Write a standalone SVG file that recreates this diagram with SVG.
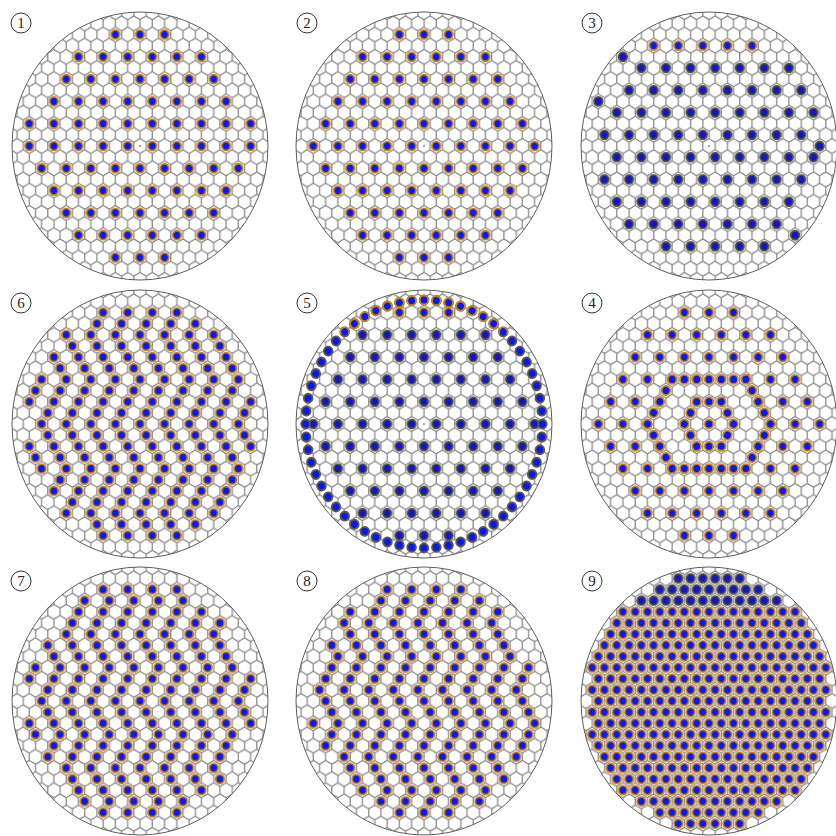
<svg xmlns="http://www.w3.org/2000/svg" xmlns:xlink="http://www.w3.org/1999/xlink" width="836" height="836" viewBox="0 0 836 836">
<style>
.bg{fill:#fff}
.rim{fill:none;stroke:#5a5a5a;stroke-width:1}
.lc{fill:#fff;stroke:#333;stroke-width:1}
.lt{font-family:"Liberation Serif","Times New Roman",serif;font-size:15px;text-anchor:middle;fill:#222}
.r{fill:none;stroke-linecap:round;stroke-dasharray:0.001 0.999}
.ro{stroke:#c8860c;stroke-width:10.9}
.rk{stroke:#5f5a3c;stroke-width:10.9}
.rb{stroke:#0d18f0;stroke-width:7.1}
.cm{fill:#777}
</style>
<defs>
<path id="hx" d="M0,-7.433L6.4375,-3.717V3.717L0,7.433L-6.4375,3.717V-3.717Z" fill="none" stroke="#8c8c8c" stroke-width="1"/>
<circle id="dO" r="4.5" fill="#0d18f0" stroke="#c8860c" stroke-width="1.9"/>
<circle id="dK" r="4.5" fill="#1414c8" stroke="#5a5538" stroke-width="1.9"/>
<pattern id="hexp" patternUnits="userSpaceOnUse" x="-3.21875" y="-2" width="12.875" height="22.3">
<use href="#hx" x="3.21875" y="2"/><use href="#hx" x="16.09375" y="2"/><use href="#hx" x="-9.65625" y="2"/>
<use href="#hx" x="9.65625" y="13.15"/><use href="#hx" x="-3.21875" y="13.15"/>
<use href="#hx" x="3.21875" y="24.3"/><use href="#hx" x="16.09375" y="24.3"/>
</pattern>
<pattern id="sA" patternUnits="userSpaceOnUse" x="0" y="-11.15" width="25.75" height="22.3" patternTransform="skewX(30)"><use href="#dO" transform="translate(12.875,11.15) skewX(-30)"/></pattern>
<pattern id="sAk" patternUnits="userSpaceOnUse" x="0" y="-11.15" width="25.75" height="22.3" patternTransform="skewX(30)"><use href="#dK" transform="translate(12.875,11.15) skewX(-30)"/></pattern>
<pattern id="sB" patternUnits="userSpaceOnUse" x="-12.875" y="-11.15" width="25.75" height="22.3" patternTransform="skewX(30)"><use href="#dO" transform="translate(12.875,11.15) skewX(-30)"/></pattern>
<pattern id="sC" patternUnits="userSpaceOnUse" x="-12.875" y="0" width="25.75" height="22.3" patternTransform="skewX(30)"><use href="#dO" transform="translate(12.875,11.15) skewX(-30)"/></pattern>
<pattern id="sCk" patternUnits="userSpaceOnUse" x="-12.875" y="0" width="25.75" height="22.3" patternTransform="skewX(30)"><use href="#dK" transform="translate(12.875,11.15) skewX(-30)"/></pattern>
<pattern id="fO" patternUnits="userSpaceOnUse" x="-6.4375" y="-5.575" width="12.875" height="11.15" patternTransform="skewX(30)"><use href="#dO" transform="translate(6.4375,5.575) skewX(-30)"/></pattern>
<pattern id="fK" patternUnits="userSpaceOnUse" x="-6.4375" y="-5.575" width="12.875" height="11.15" patternTransform="skewX(30)"><use href="#dK" transform="translate(6.4375,5.575) skewX(-30)"/></pattern>
<pattern id="zA" patternUnits="userSpaceOnUse" x="-7" y="-5.575" width="25.75" height="66.9">
<use href="#dO" x="7" y="5.575"/><use href="#dO" x="13.4375" y="16.725"/><use href="#dO" x="19.875" y="27.875"/>
<use href="#dO" x="26.3125" y="39.025"/><use href="#dO" x="0.5625" y="39.025"/><use href="#dO" x="19.875" y="50.175"/><use href="#dO" x="13.4375" y="61.325"/>
</pattern>
<pattern id="zC" href="#zA" patternTransform="translate(12.875,22.3) scale(-1,1)"/>
<pattern id="zB" patternUnits="userSpaceOnUse" x="-6.5" y="-5.575" width="25.75" height="89.2">
<use href="#dO" x="6.5" y="5.575"/><use href="#dO" x="12.9375" y="16.725"/><use href="#dO" x="19.375" y="27.875"/>
<use href="#dO" x="25.8125" y="39.025"/><use href="#dO" x="0.0625" y="39.025"/><use href="#dO" x="6.5" y="50.175"/>
<use href="#dO" x="25.8125" y="61.325"/><use href="#dO" x="0.0625" y="61.325"/>
<use href="#dO" x="19.375" y="72.475"/><use href="#dO" x="12.9375" y="83.625"/>
</pattern>
<clipPath id="ci"><path d="M-45.06,-117.075h90.12v11.15h-90.12z M-64.375,-105.925h128.75v11.15h-128.75z M-83.69,-94.775h167.38v11.15h-167.38z M-90.125,-83.625h180.25v11.15h-180.25z M-96.56,-72.475h193.12v11.15h-193.12z M-103,-61.325h206v11.15h-206z M-109.44,-50.175h218.88v11.15h-218.88z M-115.88,-39.025h231.76v11.15h-231.76z M-122.31,-27.875h244.62v11.15h-244.62z M-115.88,-16.725h231.76v11.15h-231.76z M-122.31,-5.575h244.62v11.15h-244.62z M-115.88,5.575h231.76v11.15h-231.76z M-122.31,16.725h244.62v11.15h-244.62z M-115.88,27.875h231.76v11.15h-231.76z M-109.44,39.025h218.88v11.15h-218.88z M-103,50.175h206v11.15h-206z M-96.56,61.325h193.12v11.15h-193.12z M-90.125,72.475h180.25v11.15h-180.25z M-83.69,83.625h167.38v11.15h-167.38z M-64.375,94.775h128.75v11.15h-128.75z M-45.06,105.925h90.12v11.15h-90.12z"/></clipPath>
<clipPath id="c9"><path d="M-38.625,-128.225h77.25v11.15h-77.25z M-57.94,-117.075h115.88v11.15h-115.88z M-77.25,-105.925h154.5v11.15h-154.5z M-96.56,-94.775h193.12v11.15h-193.12z M-103,-83.625h206v11.15h-206z M-109.44,-72.475h218.88v11.15h-218.88z M-115.88,-61.325h231.76v11.15h-231.76z M-122.31,-50.175h244.62v11.15h-244.62z M-128.75,-39.025h257.5v11.15h-257.5z M-122.31,-27.875h244.62v11.15h-244.62z M-128.75,-16.725h257.5v11.15h-257.5z M-122.31,-5.575h244.62v11.15h-244.62z M-128.75,5.575h257.5v11.15h-257.5z M-122.31,16.725h244.62v11.15h-244.62z M-128.75,27.875h257.5v11.15h-257.5z M-122.31,39.025h244.62v11.15h-244.62z M-115.88,50.175h231.76v11.15h-231.76z M-109.44,61.325h218.88v11.15h-218.88z M-103,72.475h206v11.15h-206z M-96.56,83.625h193.12v11.15h-193.12z M-77.25,94.775h154.5v11.15h-154.5z M-57.94,105.925h115.88v11.15h-115.88z M-38.625,117.075h77.25v11.15h-77.25z"/></clipPath>
<clipPath id="h4"><path clip-rule="evenodd" d="M-140,-140H140V140H-140Z M-38.625,-44.6L38.625,-44.6L64.375,0L38.625,44.6L-38.625,44.6L-64.375,0Z"/></clipPath>
<clipPath id="t5"><rect x="-140" y="-140" width="280" height="50"/></clipPath>
</defs>
<rect width="836" height="836" fill="#fff"/>
<g id="connectors"/>

<g id="panel-1">
<g transform="translate(140,146) scale(0.955,1)">
<circle r="134" class="bg"/><circle r="134" fill="url(#hexp)"/>
<g clip-path="url(#ci)">
<rect x="-135" y="-135" width="270" height="101.55" fill="url(#sA)"/>
<rect x="-135" y="-33.45" width="270" height="22.3" fill="url(#sB)"/>
<rect x="-135" y="-11.15" width="270" height="146.15" fill="url(#sA)"/>
</g>
<circle r="0.9" class="cm"/>
<circle r="134" class="rim"/>
</g>
<circle cx="21" cy="23" r="10" class="lc"/><text x="21" y="28" class="lt">1</text>
</g>

<g id="panel-2">
<g transform="translate(424,146) scale(0.955,1)">
<circle r="134" class="bg"/><circle r="134" fill="url(#hexp)"/>
<rect x="-135" y="-135" width="270" height="270" fill="url(#sA)" clip-path="url(#ci)"/>
<circle r="0.9" class="cm"/>
<circle r="134" class="rim"/>
</g>
<circle cx="307" cy="23" r="10" class="lc"/><text x="307" y="28" class="lt">2</text>
</g>

<g id="panel-3">
<g transform="translate(709,146) scale(0.955,1)">
<circle r="134" class="bg"/><circle r="134" fill="url(#hexp)"/>
<g clip-path="url(#ci)">
<rect x="-135" y="-135" width="270" height="43.8" fill="url(#sC)"/>
<rect x="-135" y="-91.2" width="270" height="226.2" fill="url(#sCk)"/>
</g>
<use href="#dK" x="-90.125" y="-89.2"/><use href="#dK" x="-115.875" y="-44.6"/>
<use href="#dK" x="115.875" y="0"/><use href="#dK" x="90.125" y="89.2"/>
<circle r="0.9" class="cm"/>
<circle r="134" class="rim"/>
</g>
<circle cx="592" cy="23" r="10" class="lc"/><text x="592" y="28" class="lt">3</text>
</g>

<g id="panel-6">
<g transform="translate(140,424) scale(0.955,1)">
<circle r="134" class="bg"/><circle r="134" fill="url(#hexp)"/>
<rect x="-135" y="-135" width="270" height="270" fill="url(#zB)" clip-path="url(#ci)"/>
<circle r="134" class="rim"/>
</g>
<circle cx="21" cy="303" r="10" class="lc"/><text x="21" y="308" class="lt">6</text>
</g>

<g id="panel-5">
<g transform="translate(424,424) scale(0.955,1)">
<circle r="134" class="bg"/><circle r="134" fill="url(#hexp)"/>
<g clip-path="url(#ci)">
<rect x="-135" y="-135" width="270" height="34.65" fill="url(#sA)"/>
<rect x="-135" y="-100.35" width="270" height="235.35" fill="url(#sAk)"/>
</g>
<circle r="124" pathLength="60" class="r rk"/>
<circle r="124" pathLength="60" class="r rb"/>
<g clip-path="url(#t5)">
<circle r="124" pathLength="60" class="r ro"/>
<circle r="124" pathLength="60" class="r rb"/>
</g>
<circle r="0.9" class="cm"/>
<circle r="134" class="rim"/>
</g>
<circle cx="307" cy="303" r="10" class="lc"/><text x="307" y="308" class="lt">5</text>
</g>

<g id="panel-4">
<g transform="translate(709,424) scale(0.955,1)">
<circle r="134" class="bg"/><circle r="134" fill="url(#hexp)"/>
<g clip-path="url(#ci)">
<rect x="-135" y="-135" width="270" height="270" fill="url(#sA)" clip-path="url(#h4)"/>
</g>
<path class="r ro" pathLength="28" d="M-38.625,-44.6L38.625,-44.6L64.375,0L38.625,44.6L-38.625,44.6L-64.375,0Z"/>
<path class="r rb" pathLength="28" d="M-38.625,-44.6L38.625,-44.6L64.375,0L38.625,44.6L-38.625,44.6L-64.375,0Z"/>
<path class="r ro" pathLength="12" d="M-12.875,-22.3L12.875,-22.3L25.75,0L12.875,22.3L-12.875,22.3L-25.75,0Z"/>
<path class="r rb" pathLength="12" d="M-12.875,-22.3L12.875,-22.3L25.75,0L12.875,22.3L-12.875,22.3L-25.75,0Z"/>
<use href="#dO"/>
<circle r="134" class="rim"/>
</g>
<circle cx="592" cy="303" r="10" class="lc"/><text x="592" y="308" class="lt">4</text>
</g>

<g id="panel-7">
<g transform="translate(140,701) scale(0.955,1)">
<circle r="134" class="bg"/><circle r="134" fill="url(#hexp)"/>
<rect x="-135" y="-135" width="270" height="270" fill="url(#zA)" clip-path="url(#ci)"/>
<circle r="134" class="rim"/>
</g>
<circle cx="21" cy="581" r="10" class="lc"/><text x="21" y="586" class="lt">7</text>
</g>

<g id="panel-8">
<g transform="translate(424,701) scale(0.955,1)">
<circle r="134" class="bg"/><circle r="134" fill="url(#hexp)"/>
<rect x="-135" y="-135" width="270" height="270" fill="url(#zC)" clip-path="url(#ci)"/>
<circle r="134" class="rim"/>
</g>
<circle cx="307" cy="581" r="10" class="lc"/><text x="307" y="586" class="lt">8</text>
</g>

<g id="panel-9">
<g transform="translate(709,701) scale(0.955,1)">
<circle r="134" class="bg"/><circle r="134" fill="url(#hexp)"/>
<g clip-path="url(#c9)">
<rect x="-135" y="-135" width="270" height="40.225" fill="url(#fK)"/>
<rect x="-135" y="-94.775" width="270" height="229.775" fill="url(#fO)"/>
</g>
<circle r="134" class="rim"/>
</g>
<circle cx="592" cy="581" r="10" class="lc"/><text x="592" y="586" class="lt">9</text>
</g>
</svg>
